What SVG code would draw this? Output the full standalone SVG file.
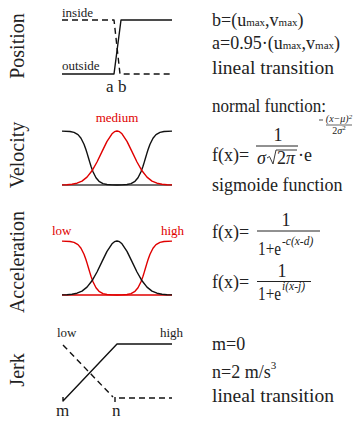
<svg xmlns="http://www.w3.org/2000/svg" width="355" height="421" viewBox="0 0 355 421">
<style>
text{font-family:"Liberation Serif","Times New Roman",serif;fill:#222}
.ax{font-size:20px}
.lb{font-size:13px}
.big{font-size:17px}
.rt{font-size:18px}
.fm{font-size:18px}
.sm{font-size:11.5px}
.it{font-style:italic}
.red{fill:#e00000}
.k{fill:none;stroke:#111;stroke-width:1.4;stroke-linejoin:round}
.r{fill:none;stroke:#e00000;stroke-width:1.4;stroke-linejoin:round}
.d{stroke-dasharray:6,4}
</style>
<rect width="355" height="421" fill="#fff"/>

<g id="position">
<text class="ax" transform="translate(24,46) rotate(-90)" text-anchor="middle">Position</text>
<text class="lb" x="62" y="17">inside</text>
<text class="lb" x="62" y="70">outside</text>
<path class="k d" d="M62,20 H114 L120,74 H172"/>
<path class="k" d="M62,74 H114 L121,20 H172"/>
<text class="big" x="106" y="92">a</text>
<text class="big" x="118" y="92">b</text>
</g>

<g id="position-text">
<text class="rt" x="212" y="26">b=(u<tspan font-size="11">max</tspan>,v<tspan font-size="11">max</tspan>)</text>
<text class="rt" x="212" y="49">a=0.95·(u<tspan font-size="11">max</tspan>,v<tspan font-size="11">max</tspan>)</text>
<text class="rt" x="212" y="74" textLength="122" lengthAdjust="spacingAndGlyphs">lineal transition</text>
</g>

<g id="velocity">
<text class="ax" transform="translate(24,155) rotate(-90)" text-anchor="middle">Velocity</text>
<text class="lb red" x="117" y="122" text-anchor="middle">medium</text>
<line x1="62" y1="185" x2="172" y2="185" stroke="#444" stroke-width="1.6"/>
<path class="k" d="M62,131.1 L70,131.5 L74,132.4 L78,134.6 L81,138.2 L84,144.2 L86,149.8 L87.2,153.6 L88.5,158 L89.8,162.4 L91,166.2 L93,171.8 L96,177.8 L99,181.3 L103,183.6 L107,184.5 L112,184.85 L117,185 L122,184.85 L127,184.5 L131,183.6 L135,181.3 L138,177.8 L141,171.8 L143,166.2 L144.2,162.4 L145.5,158 L146.8,153.6 L148,149.8 L150,144.2 L153,138.2 L156,134.6 L160,132.4 L164,131.5 L172,131.1"/>
<path class="r" d="M62,184.9 L67,184.7 L72,184.3 L77,183.2 L82,181.1 L87,177.1 L92,170.8 L97,162 L102,151.6 L107,141.4 L112,133.8 L114.5,131.7 L117,131 L119.5,131.7 L122,133.8 L127,141.4 L132,151.6 L137,162 L142,170.8 L147,177.1 L152,181.1 L157,183.2 L162,184.3 L167,184.7 L172,184.9"/>
</g>

<g id="velocity-text">
<text class="rt" x="212" y="112" textLength="114" lengthAdjust="spacingAndGlyphs">normal function:</text>
<text class="fm" x="212" y="161">f(x)=</text>
<text class="fm" x="278" y="141" text-anchor="middle">1</text>
<line x1="256" y1="146" x2="298" y2="146" stroke="#222" stroke-width="1"/>
<text class="fm it" x="257" y="164">σ</text>
<path d="M267,158 L269.5,156.5 L273,164 L276,150 L297,150" fill="none" stroke="#222" stroke-width="0.9"/>
<text class="fm" x="277" y="164">2<tspan class="it">π</tspan></text>
<text class="fm" x="298" y="161">·e</text>
<line x1="319" y1="120" x2="323" y2="120" stroke="#222" stroke-width="0.8"/>
<text class="it" font-size="10" x="339" y="122" text-anchor="middle">(x−μ)<tspan font-size="7" dy="-3">2</tspan></text>
<line x1="326" y1="125" x2="352" y2="125" stroke="#222" stroke-width="0.7"/>
<text font-size="10" x="339" y="134" text-anchor="middle">2<tspan class="it">σ</tspan><tspan font-size="7" dy="-4">2</tspan></text>
<text class="rt" x="212" y="191">sigmoide function</text>
</g>

<g id="acceleration">
<text class="ax" transform="translate(24,262) rotate(-90)" text-anchor="middle">Acceleration</text>
<text class="lb red" x="52" y="235">low</text>
<text class="lb red" x="161" y="235">high</text>
<line x1="62" y1="295" x2="172" y2="295" stroke="#e00000" stroke-width="1.6"/>
<path class="r" d="M62,241.1 L70,241.5 L74,242.4 L78,244.6 L81,248.2 L84,254.2 L86,259.8 L87.2,263.6 L88.5,268 L89.8,272.4 L91,276.2 L93,281.8 L96,287.8 L99,291.3 L103,293.6 L107,294.5 L112,294.85 L117,295 L122,294.85 L127,294.5 L131,293.6 L135,291.3 L138,287.8 L141,281.8 L143,276.2 L144.2,272.4 L145.5,268 L146.8,263.6 L148,259.8 L150,254.2 L153,248.2 L156,244.6 L160,242.4 L164,241.5 L172,241.1"/>
<path class="k" d="M62,294.9 L67,294.7 L72,294.3 L77,293.2 L82,291.1 L87,287.1 L92,280.8 L97,272 L102,261.6 L107,251.4 L112,243.8 L114.5,241.7 L117,241 L119.5,241.7 L122,243.8 L127,251.4 L132,261.6 L137,272 L142,280.8 L147,287.1 L152,291.1 L157,293.2 L162,294.3 L167,294.7 L172,294.9"/>
</g>

<g id="acceleration-text">
<text class="fm" x="212" y="238">f(x)=</text>
<text class="fm" x="286" y="226" text-anchor="middle">1</text>
<line x1="257" y1="231" x2="320" y2="231" stroke="#222" stroke-width="1"/>
<text class="fm" x="258" y="255" textLength="23" lengthAdjust="spacingAndGlyphs">1+e</text>
<text class="sm it" x="282" y="245">-c(x-d)</text>
<text class="fm" x="212" y="288">f(x)=</text>
<text class="fm" x="282" y="277" text-anchor="middle">1</text>
<line x1="257" y1="281.5" x2="311" y2="281.5" stroke="#222" stroke-width="1"/>
<text class="fm" x="258" y="300" textLength="23" lengthAdjust="spacingAndGlyphs">1+e</text>
<text class="sm it" x="282" y="290">i(x-j)</text>
</g>

<g id="jerk">
<text class="ax" transform="translate(24,370) rotate(-90)" text-anchor="middle">Jerk</text>
<text class="lb" x="57" y="337">low</text>
<text class="lb" x="160" y="337">high</text>
<path class="k" d="M63,397 V401 L117,344 H172"/>
<path class="k d" d="M63,345 L113,397"/>
<path class="k" d="M115,397 V402"/>
<path class="k d" d="M119,398 H172"/>
<text class="big" x="56" y="416">m</text>
<text class="big" x="112" y="416">n</text>
</g>

<g id="jerk-text">
<text class="rt" x="212" y="350">m=0</text>
<text class="rt" x="212" y="378">n=2 m/s<tspan font-size="11" dy="-9">3</tspan></text>
<text class="rt" x="212" y="402" textLength="122" lengthAdjust="spacingAndGlyphs">lineal transition</text>
</g>
</svg>
